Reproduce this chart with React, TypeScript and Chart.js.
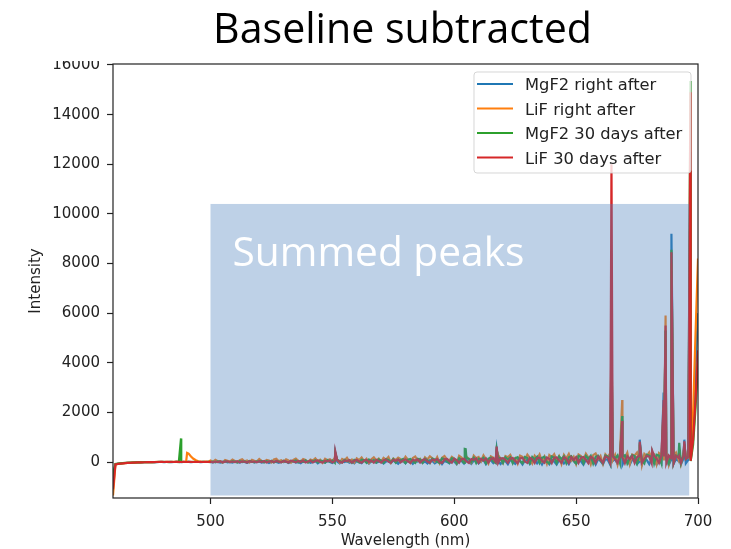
import React, { useEffect, useRef } from "react";
import { Chart, registerables } from "chart.js";

Chart.register(...registerables);

// ---------- DATA ----------
const SERIES_NAMES = ["MgF2 right after", "LiF right after", "MgF2 30 days after", "LiF 30 days after"];
const SERIES_COLORS = ["#1f77b4", "#ff7f0e", "#2ca02c", "#d62728"];

// base wavelength grid: 460 nm .. 700 nm, one value per nm
const BASE_START_NM = 460;
const BASE_STEP_NM = 1;

const BASE_MGF2_RIGHT = [
  -700, -90, -70, -60, -50, -40, -35, -30, -25, -20,
  -18, -15, -12, -10, -8, -6, -5, -3, -2, 0,
  5, -5, 0, 5, -5, 0, 5, 0, -5, 5,
  0, 5, -5, 0, 5, 0, -5, 5, 0, 5,
  5, -15, 20, 0, -20, 15, 25, -10, 5, -25,
  20, 0, -20, 25, 5, -30, 15, 30, -15, 0,
  25, -25, 5, 20, -35, 15, 30, 0, -30, 20,
  0, 25, -40, 15, 35, -20, 5, -45, 25, 15,
  30, -30, 0, 40, -50, 20, 25, -25, 45, 5,
  -40, 30, 15, -55, 40, 0, 50, -30, 20, -50,
  45, 5, -45, 50, 25, -60, 30, 55, -25, 15,
  55, -55, 20, 40, -40, 60, 0, -70, 45, 25,
  -50, 60, 30, -75, 50, 15, 70, -45, 25, -60,
  70, 40, -55, 20, 75, -80, 45, 5, -50, 75,
  25, -85, 60, 40, -60, 80, 15, -75, 55, 85,
  -55, 30, 80, -90, 50, 70, -40, 85, 20, -80,
  75, 40, -90, 90, 15, -70, 80, 50, -95, 60,
  90, -75, 25, 95, -55, 70, -100, 85, 45, -85,
  95, 20, -105, 75, 100, -60, 40, -90, 110, 55,
  -80, 105, 30, -105, 90, 115, -50, 75, -100, 110,
  50, -90, 120, 85, -110, 40, 115, -75, 105, -105,
  120, 55, -100, 90, 125, -80, 25, -110, 115, 75,
  -85, 125, 60, -105, 110, -40, 130, 80, -115, 95,
  -70, 120, 45, -100, 130, -50, 90, 100, 1200, 3800,
  6000,
];

const BASE_LIF_RIGHT = [
  -1350, -100, -80, -65, -55, -45, -38, -32, -26, -22,
  -18, -14, -10, -8, -5, -4, -2, 0, 2, 0,
  5, 0, 5, 10, 0, 5, 10, 5, 0, 5,
  10, 340, 220, 130, 70, 30, 15, 10, 15, 5,
  60, 10, 90, 30, 40, -20, 80, 50, 20, 100,
  40, -10, 70, 110, 30, 60, -20, 90, 50, 20,
  120, 40, 0, 80, 60, -20, 100, 130, 30, 70,
  10, 110, 60, -30, 90, 140, 50, 20, 120, 80,
  -10, 100, 60, 150, 30, 90, -30, 130, 70, 110,
  40, 160, 90, -30, 120, 70, 170, 20, 100, -20,
  150, 80, 180, 40, 130, -40, 110, 190, 60, 140,
  10, 170, 100, 200, -30, 140, 80, 180, 120, 30,
  210, 90, -40, 160, 220, 60, 130, -20, 190, 100,
  230, 150, 20, 200, -50, 170, 240, 110, 60, 210,
  130, -50, 250, 180, 40, 220, 100, -30, 260, 150,
  200, 30, 270, 120, -60, 230, 180, 60, 280, 140,
  -40, 240, 190, 290, 70, 160, -60, 260, 210, 100,
  300, 170, -50, 250, 130, 310, 40, 220, -70, 280,
  190, 320, 80, 240, -70, 290, 150, 330, 60, 210,
  -80, 300, 240, 90, 340, 180, -90, 280, 350, 120,
  250, -70, 310, 200, 360, 70, 290, -100, 340, 230,
  150, 370, -80, 300, 260, 380, 90, -110, 330, 240,
  390, 140, 310, -90, 360, 270, 60, 400, -100, 320,
  250, 380, 100, -80, 340, 290, 200, 200, 2000, 5200,
  8200,
];

const BASE_MGF2_30D = [
  -500, -80, -65, -55, -45, -38, -32, -26, -22, -18,
  -15, -12, -10, -8, -6, -4, -3, -2, 0, 2,
  0, 5, 0, -5, 5, 0, 5, 0, 5, 0,
  0, 5, 0, 5, 0, 5, 0, 5, 0, 5,
  0, 20, -10, 25, 5, -15, 30, 10, -5, 25,
  15, -20, 35, 0, 25, -15, 40, 10, -10, 30,
  20, 45, -15, 30, 5, 50, -20, 35, 15, -10,
  55, 10, -25, 45, 30, 60, -15, 40, 5, 65,
  -20, 50, 25, 70, -10, 55, 35, -25, 75, 15,
  60, -30, 80, 40, -15, 85, 20, 65, -35, 90,
  45, -20, 95, 70, -30, 100, 25, 80, -25, 105,
  50, -35, 110, 85, 0, 115, -30, 90, 60, 120,
  -40, 95, 125, 30, -35, 130, 100, -20, 135, 70,
  -45, 140, 105, 10, -40, 145, 110, 40, -30, 150,
  120, -45, 155, 80, -35, 160, 130, 0, 165, -40,
  135, 90, 170, -50, 140, 175, 20, -45, 180, 145,
  -40, 185, 100, 190, -50, 150, 195, 30, -45, 200,
  160, -50, 205, 110, 210, -40, 170, 215, 0, -55,
  220, 180, -45, 225, 120, 230, -50, 190, 235, 40,
  -55, 240, 200, -45, 245, 130, 250, -60, 210, 255,
  60, -50, 260, 220, -55, 265, 140, 270, -45, 230,
  275, -60, 150, 280, 240, -50, 285, 70, -55, 290,
  250, 160, -60, 295, 260, -50, 300, 170, -55, 280,
  -45, 255, 190, -40, 245, 120, 210, 40, 700, 2200,
  4000,
];

const BASE_LIF_30D = [
  -1100, -95, -75, -62, -52, -44, -37, -31, -26, -21,
  -17, -14, -11, -9, -7, -5, -3, -2, 0, 2,
  5, 0, 5, 0, 5, 0, 5, 5, 0, 5,
  0, 5, 5, 0, 5, 0, 5, 0, 5, 0,
  10, -10, 20, 0, 25, -15, 15, 30, -5, 20,
  0, 30, -15, 25, 10, -20, 35, 5, 20, -10,
  30, 0, 40, -20, 20, 35, -10, 45, 10, -15,
  40, 15, -20, 50, 25, -10, 45, 0, 55, -20,
  20, 55, -15, 40, 60, 5, -25, 50, 30, 65,
  -15, 45, 70, 10, -25, 60, 35, 75, -20, 50,
  80, 20, -30, 65, 85, 0, 55, -25, 90, 40,
  -20, 75, 95, 15, -30, 85, 50, 100, -15, 70,
  105, 30, -35, 90, 60, 110, -20, 80, 115, 20,
  -30, 100, 70, 120, 0, -35, 110, 125, 40, -25,
  130, 80, -30, 115, 135, 20, -40, 120, 90, 140,
  -35, 125, 60, 145, -20, 130, 150, 10, -40, 140,
  155, 90, -30, 145, 160, 40, -45, 150, 165, 20,
  -35, 170, 110, -40, 160, 175, 50, -30, 180, 130,
  -45, 170, 185, 60, -35, 190, 140, -40, 195, 80,
  200, -30, 175, 205, 90, -45, 210, 150, -35, 215,
  100, -40, 220, 180, -50, 225, 120, -30, 230, 190,
  -45, 235, 110, 240, -40, 200, 245, -30, 130, 250,
  210, -50, 255, 140, -40, 260, 220, -35, 265, 150,
  -45, 250, 180, -30, 240, 120, 200, 50, 900, 2500,
  4500,
];

// narrow emission peaks (null = no peak in that series)
const PEAK_WAVELENGTHS = [487.9, 490.4, 551.2, 604.3, 604.7, 617.4, 664.5, 668.9, 676.1, 681.2, 685.9, 686.7, 689.1, 692.3, 694.4, 696.9];
const PEAK_MGF2_RIGHT = [null, null, 380, null, null, 520, 4800, 1700, 900, 350, 2800, 5300, 9200, 250, 900, 12500];
const PEAK_LIF_RIGHT = [null, 370, 320, null, null, 480, 5400, 2500, 700, 380, 2200, 5900, 8000, 300, 600, 11500];
const PEAK_MGF2_30D = [950, null, 360, 530, 520, 500, 5000, 1850, 760, 340, 2100, 5300, 8550, 770, 720, 15350];
const PEAK_LIF_30D = [null, null, 430, null, null, 620, 12000, 1650, 820, 460, 2500, 5500, 8450, 240, 830, 14900];

const X_TICKS = [500, 550, 600, 650, 700];
const Y_TICKS = [0, 2000, 4000, 6000, 8000, 10000, 12000, 14000, 16000];
const X_RANGE = [460, 700];
const Y_RANGE = [-1450, 16040];

// "Summed peaks" highlight region (nm, intensity)
const HIGHLIGHT_NM = [500, 696.4];
const HIGHLIGHT_INT = [-1350, 10400];

const TITLE = "Baseline subtracted";
const HIGHLIGHT_LABEL = "Summed peaks";

// ---------- helpers ----------
function buildPoints(base: number[], peaks: (number | null)[]) {
  const pts = base.map((y, i) => ({ x: BASE_START_NM + i * BASE_STEP_NM, y }));
  PEAK_WAVELENGTHS.forEach((x, j) => {
    const y = peaks[j];
    if (y !== null && y !== undefined) pts.push({ x, y });
  });
  pts.sort((a, b) => a.x - b.x);
  return pts;
}

const AXIS_FONT = { family: "'DejaVu Sans', sans-serif", size: 15 };
const TEXT_COLOR = "#222222";
const SLIDE_FONT = "'Open Sans', Lato, sans-serif";

function fitFont(ctx: CanvasRenderingContext2D, text: string, family: string, targetWidth: number) {
  ctx.font = `100px ${family}`;
  const w = ctx.measureText(text).width;
  return (100 * targetWidth) / w;
}

const overlayPlugin = {
  id: "overlay",
  afterDatasetsDraw(chart: any) {
    const { ctx, chartArea, scales } = chart;
    const xs = scales.x;
    const ys = scales.y;
    ctx.save();
    // highlight rectangle
    const l = xs.getPixelForValue(HIGHLIGHT_NM[0]);
    const r = xs.getPixelForValue(HIGHLIGHT_NM[1]);
    const t = ys.getPixelForValue(HIGHLIGHT_INT[1]);
    const b = ys.getPixelForValue(HIGHLIGHT_INT[0]);
    ctx.fillStyle = "rgba(79,129,189,0.37)";
    ctx.fillRect(l, t, r - l, b - t);
    // label
    const fs = fitFont(ctx, HIGHLIGHT_LABEL, SLIDE_FONT, 292);
    ctx.font = `${fs}px ${SLIDE_FONT}`;
    ctx.fillStyle = "#ffffff";
    ctx.textAlign = "left";
    ctx.textBaseline = "alphabetic";
    ctx.fillText(HIGHLIGHT_LABEL, l + 22, t + 62);

    // frame (spines)
    ctx.strokeStyle = "#222";
    ctx.lineWidth = 1.2;
    ctx.strokeRect(chartArea.left, chartArea.top, chartArea.right - chartArea.left, chartArea.bottom - chartArea.top);

    // legend
    const lx0 = 474, ly0 = 72, lx1 = 691, ly1 = 173, rad = 3;
    ctx.beginPath();
    ctx.moveTo(lx0 + rad, ly0);
    ctx.lineTo(lx1 - rad, ly0);
    ctx.quadraticCurveTo(lx1, ly0, lx1, ly0 + rad);
    ctx.lineTo(lx1, ly1 - rad);
    ctx.quadraticCurveTo(lx1, ly1, lx1 - rad, ly1);
    ctx.lineTo(lx0 + rad, ly1);
    ctx.quadraticCurveTo(lx0, ly1, lx0, ly1 - rad);
    ctx.lineTo(lx0, ly0 + rad);
    ctx.quadraticCurveTo(lx0, ly0, lx0 + rad, ly0);
    ctx.closePath();
    ctx.fillStyle = "rgba(255,255,255,0.8)";
    ctx.fill();
    ctx.strokeStyle = "rgba(204,204,204,0.8)";
    ctx.lineWidth = 1;
    ctx.stroke();
    ctx.font = "16.3px 'DejaVu Sans', sans-serif";
    ctx.textAlign = "left";
    ctx.textBaseline = "alphabetic";
    SERIES_NAMES.forEach((name, i) => {
      const yRow = 84 + i * 24.5;
      ctx.strokeStyle = SERIES_COLORS[i];
      ctx.lineWidth = 2.2;
      ctx.beginPath();
      ctx.moveTo(477, yRow);
      ctx.lineTo(513, yRow);
      ctx.stroke();
      ctx.fillStyle = TEXT_COLOR;
      ctx.fillText(name, 525, yRow + 6);
    });
    ctx.restore();
  },
  afterDraw(chart: any) {
    const { ctx } = chart;
    ctx.save();
    // picture is cropped just above the axes
    ctx.fillStyle = "#ffffff";
    ctx.fillRect(0, 0, 731, 61);
    const fs = fitFont(ctx, TITLE, SLIDE_FONT, 379);
    ctx.font = `${fs}px ${SLIDE_FONT}`;
    ctx.fillStyle = "#000000";
    ctx.textAlign = "center";
    ctx.textBaseline = "alphabetic";
    ctx.fillText(TITLE, 402.5, 43);
    ctx.restore();
  },
};

export default function App() {
  const ref = useRef<HTMLCanvasElement | null>(null);
  useEffect(() => {
    if (!ref.current) return;
    const bases = [BASE_MGF2_RIGHT, BASE_LIF_RIGHT, BASE_MGF2_30D, BASE_LIF_30D];
    const peaks = [PEAK_MGF2_RIGHT, PEAK_LIF_RIGHT, PEAK_MGF2_30D, PEAK_LIF_30D];
    const chart = new Chart(ref.current, {
      type: "line",
      data: {
        datasets: SERIES_NAMES.map((name, i) => ({
          label: name,
          data: buildPoints(bases[i], peaks[i]),
          borderColor: SERIES_COLORS[i],
          backgroundColor: SERIES_COLORS[i],
          borderWidth: 2.2,
          pointRadius: 0,
          tension: 0,
          fill: false,
          order: 4 - i,
        })),
      },
      options: {
        animation: false,
        responsive: false,
        devicePixelRatio: 1,
        layout: { padding: { top: 64, right: 33, left: 0, bottom: 0 } },
        plugins: {
          legend: { display: false },
          tooltip: { enabled: false },
          title: { display: false },
        },
        scales: {
          x: {
            type: "linear",
            min: X_RANGE[0],
            max: X_RANGE[1],
            afterBuildTicks: (s: any) => {
              s.ticks = X_TICKS.map((v) => ({ value: v }));
            },
            afterFit: (s: any) => {
              s.height = 51;
            },
            grid: { display: true, drawOnChartArea: false, tickLength: 6, tickColor: "#222", tickWidth: 1.2 },
            border: { display: false },
            ticks: {
              font: AXIS_FONT,
              color: TEXT_COLOR,
              padding: 9,
              maxRotation: 0,
              autoSkip: false,
              callback: (v: any) => String(v),
            },
            title: {
              display: true,
              text: "Wavelength (nm)",
              font: AXIS_FONT,
              color: TEXT_COLOR,
              padding: { top: 0, bottom: -1 },
            },
          },
          y: {
            type: "linear",
            min: Y_RANGE[0],
            max: Y_RANGE[1],
            afterBuildTicks: (s: any) => {
              s.ticks = Y_TICKS.map((v) => ({ value: v }));
            },
            afterFit: (s: any) => {
              s.width = 113;
            },
            grid: { display: true, drawOnChartArea: false, tickLength: 6, tickColor: "#222", tickWidth: 1.2 },
            border: { display: false },
            ticks: {
              font: AXIS_FONT,
              color: TEXT_COLOR,
              padding: 7,
              autoSkip: false,
              callback: (v: any) => String(v),
            },
            title: {
              display: true,
              text: "Intensity",
              font: AXIS_FONT,
              color: TEXT_COLOR,
              padding: { top: 27, bottom: 0 },
            },
          },
        },
      },
      plugins: [overlayPlugin],
    } as any);
    return () => chart.destroy();
  }, []);
  return (
    <div style={{ position: "fixed", left: 0, top: 0, width: 731, height: 549, background: "#fff" }}>
      <canvas ref={ref} width={731} height={549} style={{ display: "block" }} />
    </div>
  );
}
